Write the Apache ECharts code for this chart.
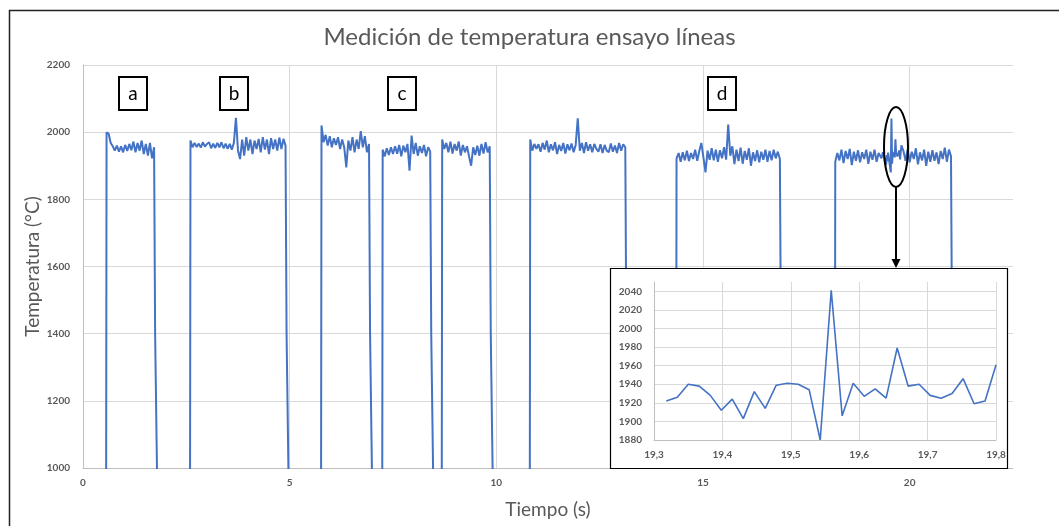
<!DOCTYPE html>
<html>
<head>
<meta charset="utf-8">
<script src="https://cdn.jsdelivr.net/npm/echarts@6/dist/echarts.min.js"></script>
<style>
  html, body { margin: 0; padding: 0; background: #fff; }
  #chart { width: 1059px; height: 526px; }
</style>
</head>
<body>
<div id="chart"></div>
<script>
// tiempos de inicio de cada tramo (s) y paso de muestreo
const segStarts = [0.57, 2.60, 5.77, 7.25, 8.69, 10.82, 14.36, 18.20];
const step = 0.05;

// temperaturas (°C) de cada línea
const tempA = [2000, 1995, 1968, 1958, 1945, 1960, 1942, 1958, 1940, 1962, 1944, 1965,
  1946, 1972, 1940, 1968, 1945, 1975, 1935, 1965, 1930, 1968, 1922, 1955];
const tempB = [1975, 1955, 1968, 1956, 1966, 1954, 1970, 1957, 1965, 1970, 1952, 1966,
  1953, 1968, 1955, 1970, 1952, 1966, 1950, 1965, 1948, 1968, 2043, 1945, 1920, 1978,
  1930, 1985, 1945, 1978, 1935, 1975, 1950, 1980, 1940, 1985, 1948, 1978, 1935, 1982,
  1950, 1978, 1945, 1984, 1950, 1980, 1960];
const tempC1 = [2020, 1970, 1992, 1960, 1988, 1955, 1982, 1962, 1985, 1950, 1978, 1955,
  1895, 1975, 1945, 1985, 1940, 1978, 1950, 2003, 1955, 1988, 1940, 1965];
const tempC2 = [1948, 1928, 1952, 1932, 1955, 1935, 1958, 1936, 1962, 1928, 1960, 1940,
  1965, 1885, 1990, 1935, 1968, 1930, 1958, 1938, 1962, 1928, 1955, 1942];
const tempC3 = [1978, 1950, 1968, 1940, 1972, 1936, 1965, 1945, 1972, 1930, 1962, 1940,
  1958, 1928, 1900, 1955, 1932, 1960, 1930, 1965, 1936, 1970, 1940, 1958];
const tempD0 = [1978, 1945, 1965, 1950, 1964, 1942, 1968, 1948, 1975, 1940, 1964, 1946,
  1970, 1935, 1962, 1944, 1968, 1936, 1964, 1946, 1966, 1940, 1962, 2041, 1945, 1968,
  1938, 1970, 1945, 1964, 1940, 1965, 1950, 1942, 1964, 1938, 1962, 1945, 1940, 1966,
  1942, 1960, 1938, 1968, 1945, 1964, 1955];
const tempD1 = [1922, 1938, 1912, 1940, 1916, 1945, 1914, 1938, 1920, 1948, 1915, 1944,
  1968, 1925, 1880, 1945, 1918, 1952, 1916, 1948, 1912, 1946, 1922, 1955, 1918, 2023,
  1930, 1958, 1905, 1948, 1914, 1954, 1906, 1944, 1918, 1952, 1900, 1940, 1914, 1946,
  1910, 1942, 1918, 1948, 1912, 1944, 1916, 1948, 1922, 1942, 1920];
const tempD2a = [1912, 1938, 1916, 1948, 1908, 1944, 1920, 1950, 1902, 1942, 1915, 1946,
  1910, 1940, 1920, 1948, 1906, 1942, 1918, 1948, 1912, 1938];
const tempD2b = [1944, 1915, 1948, 1910, 1942, 1920, 1952, 1904, 1940, 1916, 1948, 1900,
  1942, 1912, 1946, 1915, 1940, 1905, 1944, 1920, 1954, 1912, 1948, 1928];
const d2bStart = 19.85;

// detalle ampliado (19,3 - 19,8 s)
const zoomStart = 19.318;
const zoomStep = 0.01607;
const zoomTemps = [1922, 1926, 1940, 1938, 1928, 1912, 1924, 1903, 1932, 1914, 1939,
  1941, 1940, 1934, 1880, 2041, 1906, 1941, 1927, 1935, 1925, 1979, 1938, 1940, 1928,
  1925, 1930, 1946, 1919, 1922, 1961];

// subida / bajada entre líneas
const offTemp = 950;
const fallMid = 1400;

const boxLabels = ['a', 'b', 'c', 'd'];
const boxX = [119, 220, 388, 708];

function segPoints(start, vals, dt) {
  return vals.map((v, i) => [+(start + i * dt).toFixed(4), v]);
}

const zoomData = segPoints(zoomStart, zoomTemps, zoomStep);
const pieces = [tempA, tempB, tempC1, tempC2, tempC3, tempD0, tempD1].map((vals, i) => segPoints(segStarts[i], vals, step));
pieces.push(segPoints(segStarts[7], tempD2a, step).concat(zoomData, segPoints(d2bStart, tempD2b, step)));

const mainData = [];
pieces.forEach(p => {
  const t0 = p[0][0];
  const t1 = p[p.length - 1][0];
  mainData.push([t0 - 0.01, offTemp]);
  p.forEach(pt => mainData.push(pt));
  mainData.push([t1 + 0.025, fallMid]);
  mainData.push([t1 + 0.075, offTemp]);
});

const grey = '#595959';
const tickFont = { color: grey, fontSize: 10, fontWeight: 'bold', fontFamily: 'Lato' };

const chart = echarts.init(document.getElementById('chart'));

const graphics = [
  { type: 'rect', z: 200, shape: { x: 9.5, y: 10.5, width: 1100, height: 600 },
    style: { fill: 'transparent', stroke: '#222', lineWidth: 1.5 }, silent: true },
  { type: 'rect', z: 50, shape: { x: 610.5, y: 268.5, width: 397, height: 200 },
    style: { fill: '#fff', stroke: '#000', lineWidth: 1.2 } },
  { type: 'ellipse', z: 100, shape: { cx: 896, cy: 147, rx: 12, ry: 40 },
    style: { fill: 'transparent', stroke: '#000', lineWidth: 2 } },
  { type: 'line', z: 100, shape: { x1: 896, y1: 187, x2: 896, y2: 261 },
    style: { stroke: '#000', lineWidth: 2 } },
  { type: 'polygon', z: 100, shape: { points: [[891.5, 259], [900.5, 259], [896, 268]] },
    style: { fill: '#000' } }
];
boxLabels.forEach((l, i) => {
  graphics.push({
    type: 'rect', z: 100,
    shape: { x: boxX[i], y: 77, width: 28, height: 33 },
    style: { fill: '#fff', stroke: '#000', lineWidth: 2 }
  });
  graphics.push({
    type: 'text', z: 101,
    x: boxX[i] + 14, y: 94,
    style: {
      text: l, font: '19px Lato', fill: '#000',
      align: 'center', verticalAlign: 'middle',
      textAlign: 'center', textVerticalAlign: 'middle'
    }
  });
});

chart.setOption({
  animation: false,
  backgroundColor: '#fff',
  title: {
    text: 'Medición de temperatura ensayo líneas',
    left: 'center',
    top: 20,
    textStyle: { color: grey, fontSize: 24, fontWeight: 'normal', fontFamily: 'Lato' }
  },
  grid: [
    { left: 83, right: 46, top: 65, bottom: 58, outerBoundsMode: 'none' },
    { left: 654, right: 63, top: 282, bottom: 86, outerBoundsMode: 'none', z: 60 }
  ],
  xAxis: [
    {
      type: 'value', gridIndex: 0, min: 0, max: 22.5, interval: 5,
      name: 'Tiempo (s)', nameLocation: 'middle', nameGap: 32, nameMoveOverlap: false,
      nameTextStyle: { color: grey, fontSize: 19, fontFamily: 'Lato' },
      axisLine: { lineStyle: { color: '#bfbfbf' } },
      axisTick: { show: false },
      axisLabel: Object.assign({ margin: 10, showMaxLabel: false, formatter: v => String(v) }, tickFont),
      splitLine: { show: true, showMaxLine: false, lineStyle: { color: '#d9d9d9' } }
    },
    {
      type: 'value', gridIndex: 1, min: 19.3, max: 19.8, interval: 0.1, z: 60,
      axisLine: { lineStyle: { color: '#bfbfbf' } },
      axisTick: { show: false },
      axisLabel: Object.assign({ margin: 10, formatter: v => v.toFixed(1).replace('.', ',') }, tickFont),
      splitLine: { show: true, lineStyle: { color: '#d9d9d9' } }
    }
  ],
  yAxis: [
    {
      type: 'value', gridIndex: 0, min: 1000, max: 2200, interval: 200,
      name: 'Temperatura (°C)', nameLocation: 'middle', nameGap: 41, nameMoveOverlap: false,
      nameTextStyle: { color: grey, fontSize: 19, fontFamily: 'Lato' },
      axisLine: { show: true, lineStyle: { color: '#bfbfbf' } },
      axisTick: { show: false },
      axisLabel: Object.assign({ margin: 13, formatter: v => String(v) }, tickFont),
      splitLine: { lineStyle: { color: '#d9d9d9' } }
    },
    {
      type: 'value', gridIndex: 1, min: 1880, max: 2050, interval: 20, z: 60,
      axisLine: { show: true, lineStyle: { color: '#bfbfbf' } },
      axisTick: { show: false },
      axisLabel: Object.assign({ margin: 12, showMaxLabel: false, formatter: v => String(v) }, tickFont),
      splitLine: { showMaxLine: false, lineStyle: { color: '#d9d9d9' } }
    }
  ],
  series: [
    {
      type: 'line', xAxisIndex: 0, yAxisIndex: 0, data: mainData,
      showSymbol: false, clip: true,
      lineStyle: { color: '#4472C4', width: 2 }
    },
    {
      type: 'line', xAxisIndex: 1, yAxisIndex: 1, data: zoomData, z: 60,
      showSymbol: false, clip: true,
      lineStyle: { color: '#4472C4', width: 1.6 }
    }
  ],
  graphic: graphics
});
</script>
</body>
</html>
